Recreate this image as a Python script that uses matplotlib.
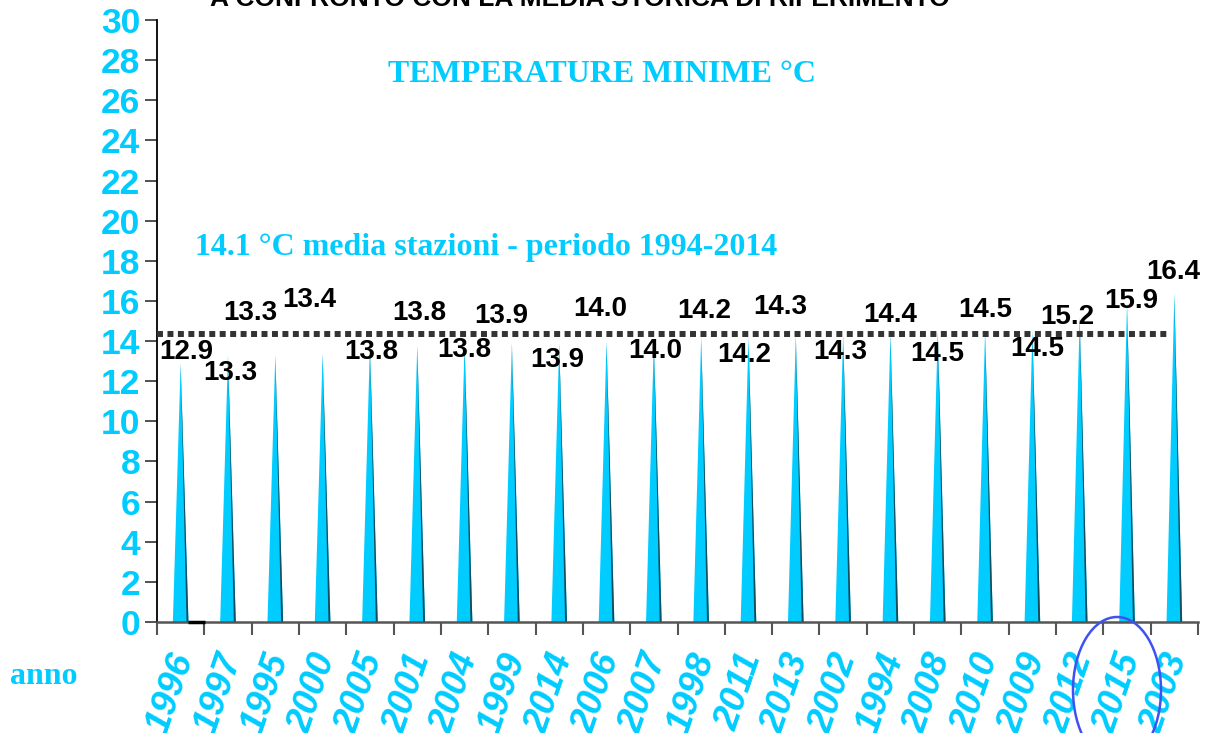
import matplotlib
matplotlib.use("Agg")
import matplotlib.pyplot as plt
from matplotlib.patches import Ellipse, Polygon
import numpy as np

# ---------------- data ----------------
years = ['1996', '1997', '1995', '2000', '2005', '2001', '2004', '1999', '2014', '2006', '2007',
         '1998', '2011', '2013', '2002', '1994', '2008', '2010', '2009', '2012', '2015', '2003']
temps = [12.9, 13.3, 13.3, 13.4, 13.8, 13.8, 13.8, 13.9, 13.9, 14.0, 14.0,
         14.2, 14.2, 14.3, 14.3, 14.4, 14.5, 14.5, 14.5, 15.2, 15.9, 16.4]
mean_line_value = 14.35
y_ticks = list(range(0, 31, 2))

title_text = "A CONFRONTO CON LA MEDIA STORICA DI RIFERIMENTO"
subtitle_text = "TEMPERATURE MINIME °C"
mean_text = "14.1 °C media stazioni - periodo 1994-2014"
xlabel_text = "anno"

# ---------------- layout (label placement, manual as in the original) ----------------
label_dx = [0.12, 0.04, -0.53, -0.29, 0.02, 0.04, 0.0, -0.23, -0.05, -0.13, 0.04,
            0.06, -0.08, -0.32, -0.07, 0.0, 0.0, 0.0, 0.10, -0.27, 0.09, -0.03]
label_y = [13.45, 12.41, 15.40, 16.04, 13.45, 15.40, 13.55, 15.25, 13.05, 15.6, 13.5,
           15.5, 13.3, 15.7, 13.45, 15.3, 13.35, 15.55, 13.6, 15.2, 16.0, 17.44]

CYAN = '#00CCFF'
DARK_EDGE = '#0B4F5E'

fig = plt.figure(figsize=(12.11, 7.33), dpi=100)
ax = fig.add_axes([157 / 1211, 1 - 622 / 733, (1198 - 157) / 1211, (622 - 20) / 733])

half_w = 0.165
for i, v in enumerate(temps):
    ax.add_patch(Polygon([(i - half_w, 0), (i + half_w, 0), (i, v)], closed=True,
                         facecolor=CYAN, edgecolor='none', zorder=2))
    ax.add_patch(Polygon([(i + half_w * 0.75, 0), (i + half_w, 0), (i, v)], closed=True,
                         facecolor=DARK_EDGE, edgecolor='none', zorder=2.1))

# mean dotted line
ax.plot([-0.5, len(years) - 1.13], [mean_line_value, mean_line_value], color='#333333',
        lw=4.3, linestyle=(0, (1.0, 0.75)), dash_capstyle='butt', solid_capstyle='butt', zorder=3)

# small black mark near the baseline
ax.plot([0.15, 0.52], [0, 0], color='black', lw=2.5, zorder=4, clip_on=False, solid_capstyle='butt')

# data labels
for i, v in enumerate(temps):
    ax.text(i + label_dx[i], label_y[i], f"{v:.1f}", ha='center', va='center',
            fontsize=20, fontweight='bold', family='Liberation Sans', color='black', zorder=5)

ax.set_xlim(-0.5, len(years) - 0.5)
ax.set_ylim(0, 30)
ax.set_yticks(y_ticks)
ax.set_yticklabels([str(t) for t in y_ticks], fontsize=25.5, fontweight='bold',
                   family='Liberation Sans', color=CYAN)
ax.tick_params(axis='y', direction='out', length=9, width=1.2, color='#333333', pad=3)

ax.set_xticks(np.arange(len(years) + 1) - 0.5, minor=False)
ax.set_xticklabels([])
ax.tick_params(axis='x', direction='out', length=9, width=1.5, color='#555555')
for i, yr in enumerate(years):
    ax.text(i + 0.08, -0.053, yr, transform=ax.get_xaxis_transform(), rotation=71,
            ha='right', va='center', rotation_mode='anchor', fontsize=26.5, fontweight='bold',
            fontstyle='italic', family='Liberation Sans', color=CYAN, clip_on=False)

for s in ['top', 'right']:
    ax.spines[s].set_visible(False)
ax.spines['left'].set_color('black')
ax.spines['left'].set_linewidth(1.3)
ax.spines['bottom'].set_color('#555555')
ax.spines['bottom'].set_linewidth(1.8)

# texts
fig.text(580 / 1211, 1 - 6 / 733, title_text, ha='center', va='baseline', fontsize=19,
         fontweight='bold', family='Liberation Sans', color='black')
fig.text(602 / 1211, 1 - 75 / 733, subtitle_text, ha='center', va='center', fontsize=23,
         fontweight='bold', family='Liberation Serif', color=CYAN)
fig.text(195 / 1211, 1 - 248 / 733, mean_text, ha='left', va='center', fontsize=23,
         fontweight='bold', family='Liberation Serif', color=CYAN)
fig.text(10 / 1211, 1 - 676 / 733, xlabel_text, ha='left', va='center', fontsize=23,
         fontweight='bold', family='Liberation Serif', color=CYAN)

# blue ellipse
ell = Ellipse((1117 / 1211, 1 - 690 / 733), 88 / 1211, 146 / 733, transform=fig.transFigure,
              fill=False, edgecolor='#3F51F0', lw=1.8)
fig.patches.append(ell)

fig.savefig('out.png', dpi=100)
